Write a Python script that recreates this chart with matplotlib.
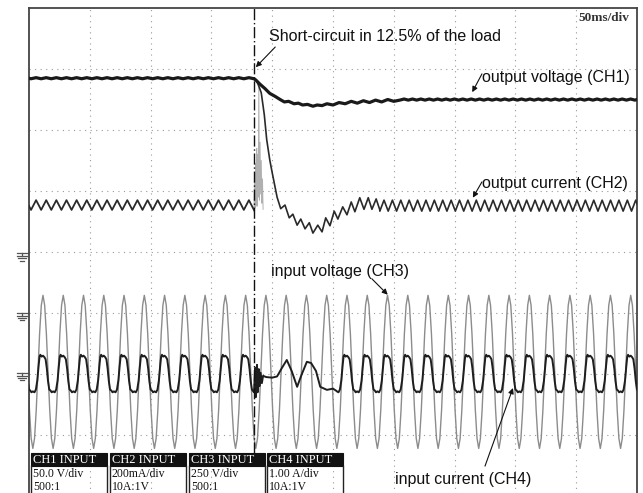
import numpy as np
import matplotlib.pyplot as plt
from matplotlib.patches import Rectangle

# screen = 10 x 8 divisions, 50 ms/div, values below are in divisions
short_t = 3.70            # moment of the short-circuit
line_period = 1 / 3       # 60 Hz input (16.7 ms)
ripple_pre = 1 / 6        # output ripple before the fault
ripple_post = 0.138       # output ripple after the fault

# CH1 output voltage
ch1_pre_level = 6.84
ch1_post_level = 6.49
ch1_ripple = 0.018
ch1_tr_t = [3.70, 3.73, 3.80, 3.88, 3.96, 4.05, 4.13, 4.20, 4.27, 4.36, 4.43, 4.50,
            4.58, 4.67, 4.74, 4.82, 4.90, 5.00, 5.10, 5.20, 5.30, 5.40, 5.50, 5.60,
            5.70, 5.80, 5.90, 6.00, 6.10]
ch1_tr_v = [6.84, 6.82, 6.75, 6.68, 6.60, 6.55, 6.50, 6.46, 6.47, 6.43, 6.44, 6.41,
            6.42, 6.39, 6.41, 6.40, 6.43, 6.41, 6.45, 6.43, 6.47, 6.44, 6.48, 6.45,
            6.49, 6.46, 6.50, 6.47, 6.49]

# CH2 output current
ch2_pre_hi, ch2_pre_lo = 4.85, 4.69
ch2_post_hi, ch2_post_lo = 4.85, 4.67
ch2_fall_t = [3.75, 3.78, 3.82, 3.87, 3.91, 3.96, 4.00, 4.05, 4.08]
ch2_fall_v = [6.79, 6.72, 6.61, 6.25, 5.84, 5.51, 5.30, 5.05, 4.90]
ch2_dip_t = [4.08, 4.14, 4.21, 4.28, 4.34, 4.41, 4.47, 4.54, 4.61, 4.67, 4.75, 4.82,
             4.88, 4.95, 5.02, 5.08, 5.16, 5.23, 5.30, 5.36, 5.44, 5.51, 5.58, 5.64,
             5.71, 5.77]
ch2_dip_v = [4.90, 4.71, 4.77, 4.56, 4.62, 4.44, 4.54, 4.38, 4.48, 4.31, 4.44, 4.33,
             4.56, 4.43, 4.67, 4.54, 4.74, 4.61, 4.82, 4.66, 4.89, 4.70, 4.89, 4.70,
             4.87, 4.69]
ch2_burst_t = [3.70, 3.71, 3.72, 3.725, 3.73, 3.74, 3.745, 3.75, 3.76, 3.77, 3.78,
               3.79, 3.80, 3.81, 3.82, 3.83, 3.84, 3.85]
ch2_burst_v = [4.66, 5.30, 4.72, 5.05, 5.45, 4.80, 5.70, 4.75, 5.60, 4.90, 6.75,
               4.85, 5.80, 4.95, 5.50, 4.80, 5.20, 4.70]

# CH3 input voltage (one cycle shape, peak in the middle) and levels
ch3_first_peak = 0.23
ch3_phase = [-0.5, -0.417, -0.333, -0.25, -0.167, -0.083, 0.0, 0.083, 0.167, 0.25, 0.333, 0.417]
ch3_shape = [-1.0, -0.87, -0.5, 0.0, 0.5, 0.87, 1.0, 0.87, 0.5, 0.0, -0.5, -0.87]
ch3_hi, ch3_lo = 3.29, 0.78

# CH4 input current (one cycle shape, in phase with CH3)
ch4_phase = [-0.5, -0.42, -0.35, -0.28, -0.22, -0.17, -0.13, -0.07, 0.0, 0.07,
             0.13, 0.19, 0.25, 0.31, 0.37, 0.43]
ch4_shape = [-0.95, -1.0, -0.85, -0.35, 0.4, 0.95, 1.05, 0.95, 1.0, 0.92,
             0.8, 0.3, -0.4, -0.85, -0.9, -1.0]
ch4_hi, ch4_lo = 2.30, 1.70
ch4_tr_t = [3.70, 3.72, 3.73, 3.75, 3.76, 3.78, 3.79, 3.81, 3.83, 3.85, 3.90, 4.00,
            4.08, 4.16, 4.24, 4.32, 4.41, 4.48, 4.57, 4.64, 4.72, 4.79, 4.90, 5.00, 5.06]
ch4_tr_v = [1.70, 2.10, 1.62, 2.15, 1.70, 2.08, 1.80, 2.02, 1.85, 1.97, 1.95, 1.94,
            1.96, 2.10, 2.23, 2.05, 1.79, 1.98, 2.20, 2.18, 2.05, 1.79, 1.74, 1.76, 1.72]

ref_marks = [3.98, 3.00, 2.02]

boxes_x = [0.033, 1.332, 2.632, 3.914]
box_head = ["CH1 INPUT", "CH2 INPUT", "CH3 INPUT", "CH4 INPUT"]
box_scale = ["50.0 V/div", "200mA/div", "250 V/div", "1.00 A/div"]
box_probe = ["500:1", "10A:1V", "500:1", "10A:1V"]


def zigzag(t0, t1, half, a, b):
    t = np.arange(t0, t1, half)
    v = np.where(np.arange(len(t)) % 2 == 0, a, b)
    return t, v


def cycles(centers, period, phase, shape, lo, hi):
    t = (np.asarray(centers)[:, None] + np.asarray(phase)[None, :] * period).ravel()
    s = np.tile(shape, len(centers))
    return t, lo + (hi - lo) * (s + 1) / 2


fig = plt.figure(figsize=(6.43, 4.93), dpi=100)
ax = fig.add_axes([29 / 643, -3 / 493, 608 / 643, 488 / 493])
ax.set_xlim(0, 10)
ax.set_ylim(0, 8)
ax.set_xticks([])
ax.set_yticks([])
for s in ["left", "top", "right"]:
    ax.spines[s].set_color("#444444")
    ax.spines[s].set_linewidth(1.3)
ax.spines["bottom"].set_visible(False)

for g in range(1, 10):
    ax.axvline(g, color="#9a9a9a", lw=0.8, ls=(0, (1, 4)), zorder=0)
for g in range(1, 8):
    ax.axhline(g, color="#9a9a9a", lw=0.8, ls=(0, (1, 4)), zorder=0)

# CH3 input voltage
k = np.arange(-1, 31)
centers = ch3_first_peak + k * line_period
t3, v3 = cycles(centers, line_period, ch3_phase, ch3_shape, ch3_lo, ch3_hi)
ax.plot(t3, v3, color="#8c8c8c", lw=1.0, zorder=2)

# CH4 input current
t4a, v4a = cycles(centers[k <= 10], line_period, ch4_phase, ch4_shape, ch4_lo, ch4_hi)
keep = t4a <= 3.67
t4b, v4b = cycles(centers[k >= 15], line_period, ch4_phase, ch4_shape, ch4_lo, ch4_hi)
t4 = np.concatenate([t4a[keep], ch4_tr_t, t4b])
v4 = np.concatenate([v4a[keep], ch4_tr_v, v4b])
ax.plot(t4, v4, color="#1e1e1e", lw=1.4, zorder=3)

# CH2 output current
tp, vp = zigzag(short_t, -0.2, -ripple_pre / 2, ch2_pre_lo, ch2_pre_hi)
ax.plot(tp, vp, color="#2a2a2a", lw=1.3, zorder=3)
ax.plot(ch2_burst_t, ch2_burst_v, color="#b0b0b0", lw=0.7, zorder=2)
tq, vq = zigzag(ch2_dip_t[-1], 10.2, ripple_post / 2, ch2_post_lo, ch2_post_hi)
ax.plot(ch2_fall_t + ch2_dip_t + list(tq), ch2_fall_v + ch2_dip_v + list(vq),
        color="#2a2a2a", lw=1.2, zorder=3)

# CH1 output voltage
t1a, v1a = zigzag(short_t, -0.2, -ripple_pre / 2, ch1_pre_level, ch1_pre_level + ch1_ripple)
t1b, v1b = zigzag(ch1_tr_t[-1], 10.2, ripple_post / 2, ch1_post_level, ch1_post_level + ch1_ripple)
ax.plot(list(t1a[::-1]) + ch1_tr_t + list(t1b), list(v1a[::-1]) + ch1_tr_v + list(v1b),
        color="#1a1a1a", lw=2.3, zorder=4)

# fault instant
ax.plot([short_t, short_t], [0.70, 8], color="#111111", lw=1.0,
        ls=(0, (8, 2, 1, 2)), zorder=5)

# channel reference markers left of the screen
for y in ref_marks:
    ax.plot([-0.2, -0.02], [y, y], color="#555555", lw=0.9, clip_on=False)
    ax.plot([-0.115, -0.115], [y, y - 0.05], color="#555555", lw=0.9, clip_on=False)
    for i, w in enumerate([0.09, 0.06, 0.03]):
        yy = y - 0.05 - i * 0.035
        ax.plot([-0.115 - w, -0.115 + w], [yy, yy], color="#555555", lw=0.9, clip_on=False)

ax.text(9.03, 7.78, "50ms/div", family="Liberation Serif", fontsize=9.5,
        fontweight="bold", color="#333333", va="baseline")

# channel boxes
bw = 1.25
for x0, h, sc, pr in zip(boxes_x, box_head, box_scale, box_probe):
    ax.add_patch(Rectangle((x0, 0.49), bw, 0.215, facecolor="#111111",
                           edgecolor="#111111", lw=0.8, zorder=6))
    ax.plot([x0, x0], [0.49, -0.1], color="#222222", lw=1.0, zorder=6)
    ax.plot([x0 + bw, x0 + bw], [0.49, -0.1], color="#222222", lw=1.0, zorder=6)
    ax.text(x0 + 0.03, 0.595, h, family="Liberation Serif", fontsize=9,
            color="white", va="center", zorder=7)
    ax.text(x0 + 0.03, 0.305, sc, family="Liberation Serif", fontsize=8.5,
            color="#111111", va="baseline", zorder=7)
    ax.text(x0 + 0.03, 0.095, pr, family="Liberation Serif", fontsize=8.5,
            color="#111111", va="baseline", zorder=7)

# annotations
notes = [
    ("Short-circuit in 12.5% of the load", (3.95, 7.46), (4.05, 7.36), (3.73, 7.03)),
    ("output voltage (CH1)", (7.45, 6.79), (7.45, 6.92), (7.29, 6.62)),
    ("output current (CH2)", (7.45, 5.05), (7.45, 5.15), (7.30, 4.89)),
    ("input voltage (CH3)", (3.98, 3.61), (5.64, 3.56), (5.90, 3.30)),
    ("input current (CH4)", (6.02, 0.20), (7.50, 0.49), (7.96, 1.77)),
]
for label, pos, tail, head in notes:
    ax.text(pos[0], pos[1], label, family="Liberation Sans", fontsize=11.5,
            color="#111111", va="baseline", zorder=8)
    ax.annotate("", xy=head, xytext=tail, zorder=8,
                arrowprops=dict(arrowstyle="-|>", lw=0.8, color="#111111",
                                mutation_scale=8, shrinkA=0, shrinkB=0))

fig.savefig("out.png", dpi=100)
